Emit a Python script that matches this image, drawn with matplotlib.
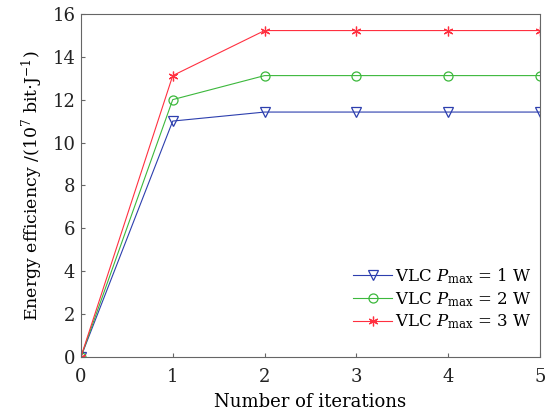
import matplotlib
matplotlib.use("Agg")
import matplotlib.pyplot as plt

iterations = [0, 1, 2, 3, 4, 5]
ee_p1 = [0, 11.0, 11.42, 11.42, 11.42, 11.42]
ee_p2 = [0, 12.0, 13.12, 13.12, 13.12, 13.12]
ee_p3 = [0, 13.12, 15.22, 15.22, 15.22, 15.22]
labels = [r"VLC $P_{\rm max}$ = 1 W", r"VLC $P_{\rm max}$ = 2 W", r"VLC $P_{\rm max}$ = 3 W"]
xticks = [0, 1, 2, 3, 4, 5]
yticks = [0, 2, 4, 6, 8, 10, 12, 14, 16]

plt.rcParams['font.family'] = ['DejaVu Serif']
plt.rcParams['mathtext.fontset'] = 'dejavuserif'

fig = plt.figure(figsize=(5.54, 4.19), dpi=100)
ax = fig.add_axes([0.146, 0.148, 0.829, 0.819])

c1, c2, c3 = '#2d3fae', '#3cb83c', '#ff3040'
ax.plot(iterations, ee_p1, color=c1, lw=0.8, marker='v', ms=6.5, mfc='none', mec=c1, mew=0.9, label=labels[0])
ax.plot(iterations, ee_p2, color=c2, lw=0.8, marker='o', ms=6.5, mfc='none', mec=c2, mew=0.9, label=labels[1])
ax.plot(iterations, ee_p3, color=c3, lw=0.8, marker=(6, 2, 0), ms=7, mfc='none', mec=c3, mew=0.9, label=labels[2])

ax.set_xlim(0, 5)
ax.set_ylim(0, 16)
ax.set_xticks(xticks)
ax.set_yticks(yticks)
ax.tick_params(direction='in', length=3, top=False, right=False, labelsize=13, colors='#222222', color='#666666', pad=4)
ax.tick_params(axis='x', pad=8)
for s in ax.spines.values():
    s.set_color('#666666')
    s.set_linewidth(0.8)

ax.set_xlabel('Number of iterations', fontsize=13, labelpad=5)
ax.set_ylabel(r'Energy efficiency /(10$^{7}$ bit$\cdot$J$^{-1}$)', fontsize=12.5, labelpad=5)

ax.legend(loc='lower right', frameon=False, fontsize=12, handlelength=2.3, handletextpad=0.2,
          labelspacing=0.25, bbox_to_anchor=(1.0, 0.05), borderaxespad=0.1)

fig.savefig('out.png', dpi=100)
